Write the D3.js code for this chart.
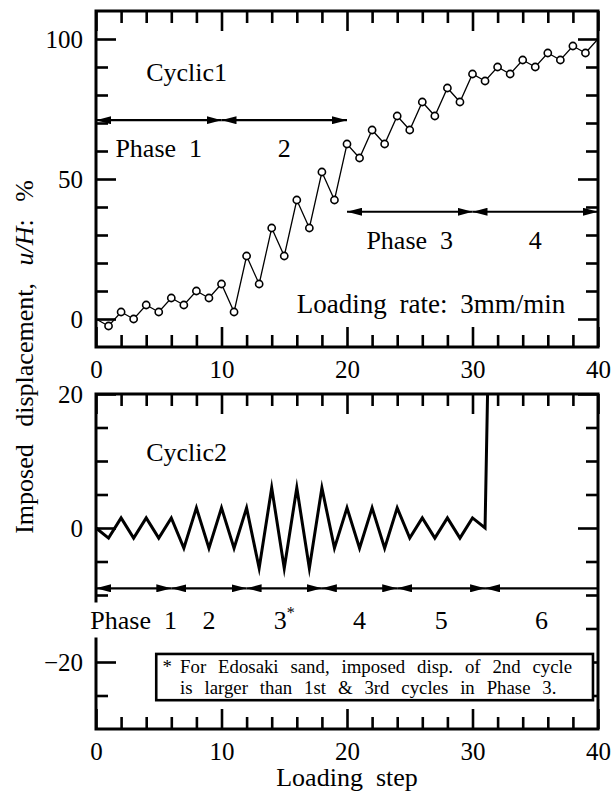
<!DOCTYPE html>
<html>
<head>
<meta charset="utf-8">
<script src="https://cdn.jsdelivr.net/npm/d3@7/dist/d3.min.js"></script>
<style>
body{margin:0;background:#fff;}
svg{display:block;}
svg text{font-family:"Liberation Serif","DejaVu Serif",serif;}
</style>
</head>
<body>
<div class="chart-container"></div>
<script>
// Cyclic1: displacement at every loading step
const steps1 = [0,1,2,3,4,5,6,7,8,9,10,11,12,13,14,15,16,17,18,19,20,
                21,22,23,24,25,26,27,28,29,30,31,32,33,34,35,36,37,38,39,40];
const cyclic1 = [0,-2.5,2.5,0,5,2.5,7.5,5,10,7.5,12.5,2.5,22.5,12.5,32.5,22.5,42.5,32.5,52.5,42.5,62.5,
                 57.5,67.5,62.5,72.5,67.5,77.5,72.5,82.5,77.5,87.5,85,90,87.5,92.5,90,95,92.5,97.5,95,100];

// Cyclic2
const steps2 = [0,1,2,3,4,5,6,7,8,9,10,11,12,13,14,15,16,17,18,19,20,
                21,22,23,24,25,26,27,28,29,30,31,32];
const cyclic2 = [0,-1.5,1.5,-1.5,1.5,-1.5,1.5,-3,3,-3,3,-3,3,-6,6,-6,6,-6,6,-3,3,
                 -3,3,-3,3,-1.5,1.5,-1.5,1.5,-1.5,1.5,0,100];

// phases
const phaseBoundsA = [0,10,20];
const phaseLabelsA = ['Phase 1','2'];
const phaseBoundsB = [20,30,40];
const phaseLabelsB = ['Phase 3','4'];
const phaseBounds2 = [0,6,12,18,24,31,40];
const phaseLabels2 = ['Phase 1','2','3','4','5','6'];

// ticks
const xTicks = [0,10,20,30,40];
const xMinor = [2,4,6,8,12,14,16,18,22,24,26,28,32,34,36,38];
const yTicks1 = [0,50,100];
const yMinor1 = [10,20,30,40,60,70,80,90];
const yTicks2 = [-20,0,20];
const yMinor2 = [-25,-15,-10,-5,5,10,15];

const noteLines = ['For Edosaki sand, imposed disp. of 2nd cycle',
                   'is larger than 1st & 3rd cycles in Phase 3.'];

const W = 616, H = 796;
const svg = d3.select('.chart-container').append('svg')
              .attr('width', W).attr('height', H);

const x = d3.scaleLinear([0,40],[96,598]);
const y1 = d3.scaleLinear([-10,110],[347,11]);
const y2 = d3.scaleLinear([-30,20],[729,394]);

const fmt = d => d < 0 ? '\u2212' + Math.abs(d) : d;

svg.append('defs').append('marker')
   .attr('id','head')
   .attr('viewBox','0 -4 15 8')
   .attr('markerUnits','userSpaceOnUse')
   .attr('markerWidth',15).attr('markerHeight',8)
   .attr('refX',15).attr('refY',0)
   .attr('orient','auto-start-reverse')
   .append('path').attr('d','M0,-4L15,0L0,4Z').attr('fill','#000');

function drawAxes(y, yMajor, yMinorT){
    const [top, bottom] = [y.range()[1], y.range()[0]];
    const g = svg.append('g');
    const style = sel => {
        sel.select('.domain').remove();
        sel.selectAll('line').attr('stroke-width',2.6);
        sel.attr('font-family',null).attr('font-size',25);
        sel.selectAll('text').attr('fill','#000');
    };
    g.append('g').attr('transform',`translate(0,${bottom})`)
     .call(d3.axisBottom(x).tickValues(xMinor).tickSize(-12).tickFormat('')).call(style);
    g.append('g').attr('transform',`translate(0,${bottom})`)
     .call(d3.axisBottom(x).tickValues(xTicks).tickSize(-20).tickPadding(13)).call(style);
    g.append('g').attr('transform',`translate(0,${top})`)
     .call(d3.axisTop(x).tickValues(xMinor).tickSize(-12).tickFormat('')).call(style);
    g.append('g').attr('transform',`translate(0,${top})`)
     .call(d3.axisTop(x).tickValues(xTicks).tickSize(-20).tickFormat('')).call(style);
    g.append('g').attr('transform',`translate(${x(0)},0)`)
     .call(d3.axisLeft(y).tickValues(yMinorT).tickSize(-12).tickFormat('')).call(style);
    g.append('g').attr('transform',`translate(${x(0)},0)`)
     .call(d3.axisLeft(y).tickValues(yMajor).tickSize(-20).tickPadding(13).tickFormat(fmt)).call(style);
    g.append('g').attr('transform',`translate(${x(40)},0)`)
     .call(d3.axisRight(y).tickValues(yMinorT).tickSize(-12).tickFormat('')).call(style);
    g.append('g').attr('transform',`translate(${x(40)},0)`)
     .call(d3.axisRight(y).tickValues(yMajor).tickSize(-20).tickFormat('')).call(style);
    g.append('rect')
     .attr('x',x(0)).attr('y',top)
     .attr('width',x(40)-x(0)).attr('height',bottom-top)
     .attr('fill','none').attr('stroke','#000').attr('stroke-width',3);
}

function drawPhases(bounds, labels, y, yArrow, yText, openEnd){
    const segs = d3.pairs(bounds);
    const g = svg.append('g').attr('class','phases');
    g.selectAll('line').data(segs).enter().append('line')
     .attr('x1',d=>x(d[0])).attr('x2',d=>x(d[1]))
     .attr('y1',y(yArrow)).attr('y2',y(yArrow))
     .attr('stroke','#000').attr('stroke-width',2.2)
     .attr('marker-start','url(#head)')
     .attr('marker-end',(d,i)=> openEnd && i === segs.length-1 ? null : 'url(#head)');
    g.selectAll('text').data(segs).enter().append('text')
     .attr('x',d=>x((d[0]+d[1])/2)).attr('y',y(yText))
     .attr('text-anchor','middle').attr('font-size',26)
     .attr('word-spacing',6.5)
     .text((d,i)=>labels[i]);
    return g;
}

// top panel
drawAxes(y1, yTicks1, yMinor1);
const line1 = d3.line().x(d=>x(d.step)).y(d=>y1(d.value));
const data1 = steps1.map((s,i)=>({step:s, value:cyclic1[i]}));
svg.append('path').datum(data1)
   .attr('d',line1).attr('fill','none').attr('stroke','#000').attr('stroke-width',1.3);
svg.selectAll('.pt').data(data1.filter(d=>d.step>0 && d.step<40)).enter()
   .append('circle').attr('class','pt')
   .attr('cx',d=>x(d.step)).attr('cy',d=>y1(d.value)).attr('r',3.6)
   .attr('fill','#fff').attr('stroke','#000').attr('stroke-width',1.6);
drawPhases(phaseBoundsA, phaseLabelsA, y1, 71, 58, false);
drawPhases(phaseBoundsB, phaseLabelsB, y1, 38.3, 25, false);

svg.append('text').attr('x',x(4)).attr('y',y1(85)).attr('font-size',26).text('Cyclic1');
svg.append('text').attr('x',x(16)).attr('y',y1(2)).attr('font-size',27)
   .attr('word-spacing',6).text('Loading rate: 3mm/min');

// bottom panel
svg.append('clipPath').attr('id','clip2').append('rect')
   .attr('x',x(0)).attr('y',y2(20)).attr('width',x(40)-x(0)).attr('height',y2(-30)-y2(20));
const data2 = steps2.map((s,i)=>({step:s, value:cyclic2[i]}));
svg.append('path').datum(data2)
   .attr('clip-path','url(#clip2)')
   .attr('d',d3.line().x(d=>x(d.step)).y(d=>y2(d.value)))
   .attr('fill','none').attr('stroke','#000').attr('stroke-width',3)
   .attr('stroke-linejoin','miter').attr('stroke-miterlimit',20);
drawAxes(y2, yTicks2, yMinor2);
const ph2 = drawPhases(phaseBounds2, phaseLabels2, y2, -9, -15, true);
ph2.selectAll('text').filter((d,i)=>i===2)
   .append('tspan').attr('dy',-11).attr('font-size',16).text('*');
// the first label sits on the left frame, which is broken behind it
const first = ph2.select('text').node();
const bb = first.getBBox();
ph2.insert('rect','text')
   .attr('x',bb.x-2).attr('y',bb.y-3)
   .attr('width',bb.width+4).attr('height',bb.height+6)
   .attr('fill','#fff');

svg.append('text').attr('x',x(4)).attr('y',y2(10)).attr('font-size',26).text('Cyclic2');

// note box
const note = svg.append('g');
note.append('rect')
    .attr('x',x(4.8)).attr('y',y2(-18.8))
    .attr('width',x(39.6)-x(4.8)).attr('height',y2(-25.7)-y2(-18.8))
    .attr('fill','#fff').attr('stroke','#000').attr('stroke-width',2.6);
note.append('text').attr('x',x(5.3)).attr('y',y2(-21.6)).attr('font-size',18.8).text('*');
note.selectAll('.note').data(noteLines).enter().append('text').attr('class','note')
    .attr('x',x(6.7)).attr('y',(d,i)=>y2(-21.6) + i*21)
    .attr('font-size',18.8).attr('word-spacing',7.2)
    .text(d=>d);

// axis titles
svg.append('text').attr('x',x(20)).attr('y',786)
   .attr('text-anchor','middle').attr('font-size',26)
   .attr('word-spacing',6.5).text('Loading step');
const ylab = svg.append('text')
   .attr('transform','translate(33,357) rotate(-90)')
   .attr('text-anchor','middle').attr('font-size',26)
   .attr('word-spacing',11);
ylab.append('tspan').text('Imposed displacement, ');
ylab.append('tspan').attr('font-style','italic').text('u/H');
ylab.append('tspan').text(': %');
</script>
</body>
</html>
